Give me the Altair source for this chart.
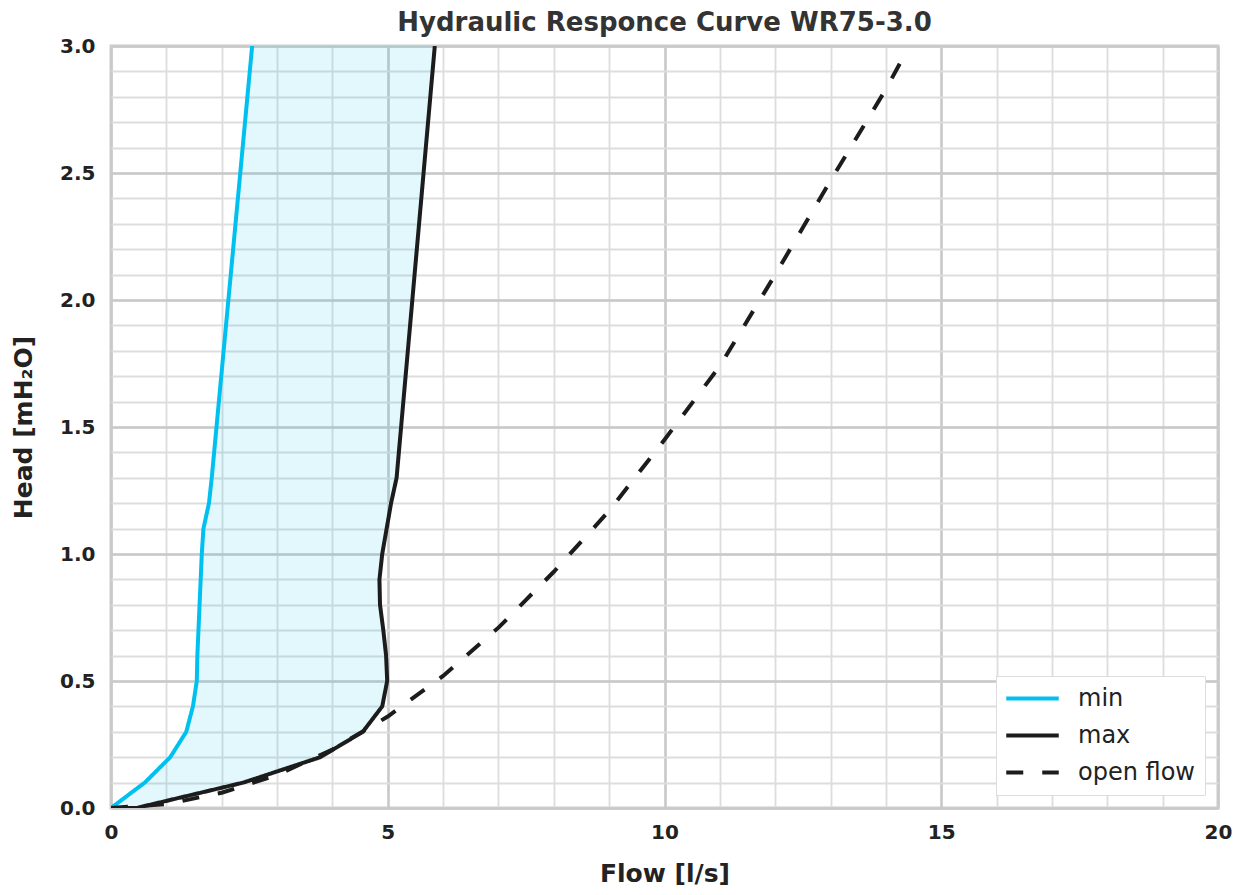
import altair as alt
import pandas as pd

# ---- data ----
head_levels = [0.0, 0.1, 0.2, 0.3, 0.4, 0.5, 0.6, 0.7, 0.8, 0.9, 1.0, 1.1, 1.2, 1.3, 3.0]
min_flow = [0.0, 0.61, 1.07, 1.36, 1.48, 1.55, 1.56, 1.58, 1.60, 1.62, 1.64, 1.67, 1.77, 1.82, 2.55]
max_flow = [0.46, 2.39, 3.78, 4.55, 4.90, 4.99, 4.97, 4.92, 4.86, 4.85, 4.90, 4.98, 5.06, 5.16, 5.85]
max_start_flow = [0.0]
max_start_head = [0.0]

open_flow = [0, 1, 2, 3, 4, 5, 6, 7, 8, 9, 10, 11, 12, 13, 14, 14.25]
open_head = [0.0, 0.015, 0.06, 0.13, 0.23, 0.36, 0.52, 0.71, 0.93, 1.17, 1.45, 1.74, 2.10, 2.47, 2.83, 2.93]

series_names = ["min", "max", "open flow"]
series_colors = ["#00c0ef", "#1c1c1c", "#1c1c1c"]
series_dash = [[1, 0], [1, 0], [17, 19]]

x_major = [0, 5, 10, 15, 20]
x_minor = list(range(0, 21))
y_major = [0.0, 0.5, 1.0, 1.5, 2.0, 2.5, 3.0]
y_minor = [round(i * 0.1, 1) for i in range(0, 31)]

FONT = "DejaVu Sans"

# ---- tables ----
fill_df = pd.DataFrame({"head": head_levels, "lo": min_flow, "hi": max_flow})

rows = []
for i, (f, h) in enumerate(zip(min_flow, head_levels)):
    rows.append({"series": "min", "flow": f, "head": h, "idx": i})
mx_f = max_start_flow + max_flow
mx_h = max_start_head + head_levels
for i, (f, h) in enumerate(zip(mx_f, mx_h)):
    rows.append({"series": "max", "flow": f, "head": h, "idx": i})
for i, (f, h) in enumerate(zip(open_flow, open_head)):
    rows.append({"series": "open flow", "flow": f, "head": h, "idx": i})
lines_df = pd.DataFrame(rows)

xscale = alt.Scale(domain=[0, 20], nice=False, zero=False)
yscale = alt.Scale(domain=[0, 3], nice=False, zero=False)

area = alt.Chart(fill_df).mark_area(
    orient="horizontal", color="#00c0ef", opacity=0.11
).encode(
    y=alt.Y("head:Q", scale=yscale,
            axis=alt.Axis(orient="right", values=y_minor, grid=True, gridColor="#dddddd",
                          gridWidth=1.8, labels=False, ticks=False, domain=False, title=None)),
    x=alt.X("lo:Q", scale=xscale,
            axis=alt.Axis(orient="top", values=x_minor, grid=True, gridColor="#dddddd",
                          gridWidth=1.8, labels=False, ticks=False, domain=False, title=None)),
    x2="hi:Q",
)

lines = alt.Chart(lines_df).mark_line(strokeWidth=4, strokeCap="butt", clip=True).encode(
    x=alt.X("flow:Q", scale=xscale,
            axis=alt.Axis(orient="bottom", values=x_major, grid=True, gridColor="#c8c8c8",
                          gridWidth=2.5, ticks=False, domain=False, labelPadding=14,
                          labelFlush=False, title="Flow [l/s]", titlePadding=19)),
    y=alt.Y("head:Q", scale=yscale,
            axis=alt.Axis(orient="left", values=y_major, format=".1f", grid=True,
                          gridColor="#c8c8c8", gridWidth=2.5, ticks=False, domain=False,
                          labelPadding=16, labelFlush=False,
                          title="Head [mH₂O]", titlePadding=23)),
    color=alt.Color("series:N",
                    scale=alt.Scale(domain=series_names, range=series_colors),
                    legend=alt.Legend(title=None, orient="bottom-right")),
    strokeDash=alt.StrokeDash("series:N",
                              scale=alt.Scale(domain=series_names, range=series_dash),
                              legend=alt.Legend(title=None, orient="bottom-right")),
    order="idx:Q",
)

chart = alt.layer(area, lines).resolve_axis(
    x="independent", y="independent"
).properties(
    width=1107,
    height=762,
    autosize=alt.AutoSizeParams(type="none"),
    padding={"left": 103, "top": 38, "right": 18, "bottom": 79},
    title=alt.TitleParams("Hydraulic Responce Curve WR75-3.0", fontSize=26,
                          font=FONT, fontWeight="bold", color="#333333", offset=0),
).configure_view(
    stroke="#cccccc", strokeWidth=3
).configure_axis(
    labelFont=FONT, labelFontSize=20, labelFontWeight="bold", labelColor="#222222",
    titleFont=FONT, titleFontSize=25, titleFontWeight="bold", titleColor="#222222",
).configure_legend(
    labelFont=FONT, labelFontSize=24, labelFontWeight="normal", labelColor="#222222",
    symbolType="M-2.5,0H2.5", symbolSize=441, symbolStrokeWidth=4, symbolOffset=14,
    fillColor="white", strokeColor="#dddddd", padding=10, offset=13,
    rowPadding=12, labelOffset=33, cornerRadius=0,
)

chart.save("out.html", embed_options={"renderer": "svg", "actions": False})
